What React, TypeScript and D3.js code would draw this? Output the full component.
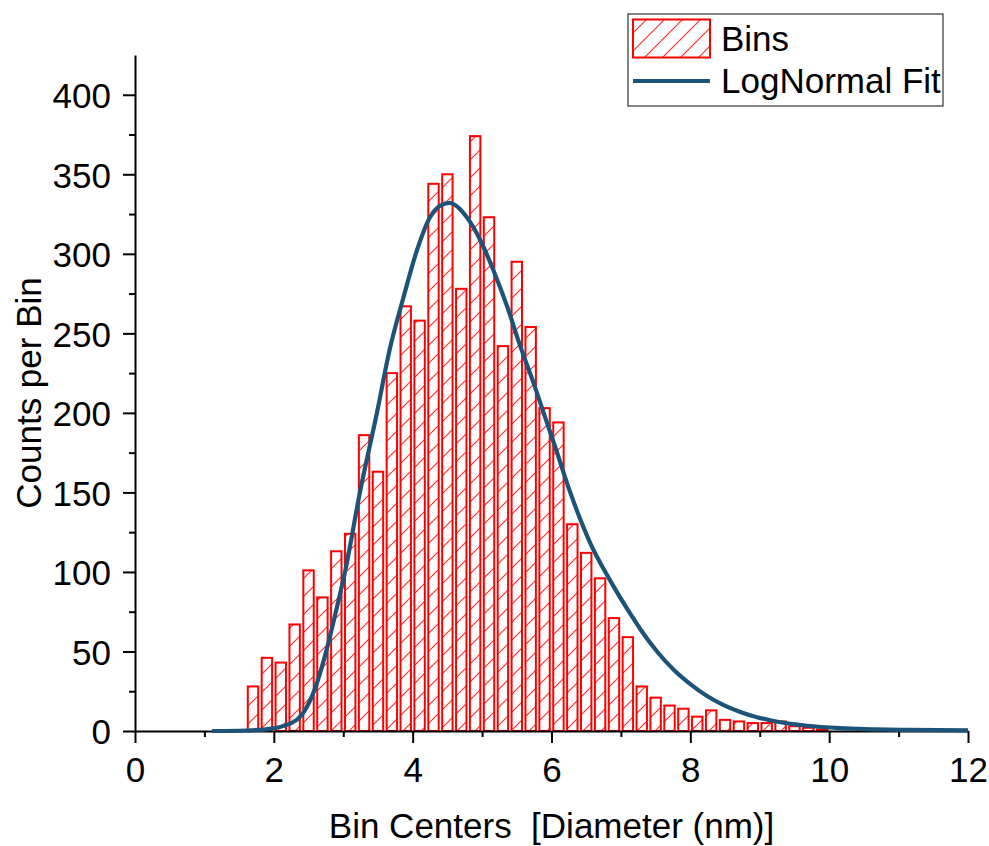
import React, { useRef, useEffect } from 'react';
import * as d3 from 'd3';

// histogram bins (centre of each 0.2 nm bin) and counts
const binCenters = [
  1.7, 1.9, 2.1, 2.3, 2.5, 2.7, 2.9, 3.1, 3.3, 3.5, 3.7, 3.9, 4.1, 4.3,
  4.5, 4.7, 4.9, 5.1, 5.3, 5.5, 5.7, 5.9, 6.1, 6.3, 6.5, 6.7, 6.9, 7.1,
  7.3, 7.5, 7.7, 7.9, 8.1, 8.3, 8.5, 8.7, 8.9, 9.1, 9.3, 9.5, 9.7, 9.9,
];
const binCounts = [
  28, 46, 43, 67, 101, 84, 113, 124, 186, 163, 225, 267, 258, 344,
  350, 278, 374, 323, 242, 295, 254, 203, 194, 130, 112, 96, 71, 59,
  28, 21, 16, 14, 9, 13, 7, 6, 5, 5, 6, 3, 2, 1,
];

// lognormal fit curve
const fitX = [
  1.11, 1.6, 1.97, 2.33, 2.57, 2.76, 2.91, 3.03, 3.24, 3.48, 3.67, 3.87,
  4.06, 4.25, 4.39, 4.53, 4.78, 4.97, 5.16, 5.36, 5.55, 5.74, 5.91, 6.05,
  6.27, 6.56, 6.84, 7.16, 7.28, 7.52, 7.76, 8.0, 8.24, 8.48, 8.72, 8.96,
  9.2, 9.68, 10.16, 11.12, 12,
];
const fitY = [
  0, 0.3, 1.5, 7, 24, 51, 78, 101, 150, 199, 240, 273,
  302, 323, 330, 332, 323, 309, 290, 267, 242, 219, 197, 179,
  150, 118, 95, 72, 64, 50, 38.5, 29.5, 22, 16.3, 12, 8.7,
  6.3, 3.3, 1.8, 0.7, 0.4,
];

const xMajorTicks = [0, 2, 4, 6, 8, 10, 12];
const xMinorTicks = [1, 3, 5, 7, 9, 11];
const yMajorTicks = [0, 50, 100, 150, 200, 250, 300, 350, 400];
const yMinorTicks = [25, 75, 125, 175, 225, 275, 325, 375];

const FONT = '"Liberation Sans", Arial, Helvetica, sans-serif';
const FONT_SIZE = 35;
const RED = '#ff0000';
const BLUE = '#1c5379';

export default function App() {
  const xAxisEl = useRef(null);
  const xMinorEl = useRef(null);
  const yAxisEl = useRef(null);
  const yMinorEl = useRef(null);

  const width = 989;
  const height = 846;
  const margin = { top: 55, right: 21, bottom: 115, left: 135 };

  const xScale = d3
    .scaleLinear()
    .domain([0, 12])
    .range([margin.left, width - margin.right]);
  const yScale = d3
    .scaleLinear()
    .domain([0, 425])
    .range([height - margin.bottom, margin.top]);

  const halfBar = 0.075;

  const line = d3
    .line()
    .x((d) => xScale(d[0]))
    .y((d) => yScale(d[1]))
    .curve(d3.curveMonotoneX);
  const fitPoints = fitX.map((x, i) => [x, fitY[i]]);

  useEffect(() => {
    const styleAxis = (g) => {
      g.select('.domain').attr('stroke-width', 2).attr('stroke', '#000');
      g.selectAll('.tick line').attr('stroke-width', 2).attr('stroke', '#000');
      g.selectAll('.tick text')
        .attr('font-size', FONT_SIZE)
        .attr('font-family', FONT)
        .attr('fill', '#000');
    };

    d3.select(xAxisEl.current)
      .call(
        d3
          .axisBottom(xScale)
          .tickValues(xMajorTicks)
          .tickSize(12)
          .tickSizeOuter(0)
          .tickPadding(14)
      )
      .call(styleAxis);

    d3.select(xMinorEl.current)
      .call(
        d3
          .axisBottom(xScale)
          .tickValues(xMinorTicks)
          .tickSize(6)
          .tickFormat(() => '')
      )
      .call(styleAxis)
      .call((g) => g.select('.domain').remove());

    d3.select(yAxisEl.current)
      .call(
        d3
          .axisLeft(yScale)
          .tickValues(yMajorTicks)
          .tickSize(12)
          .tickSizeOuter(0)
          .tickPadding(12)
      )
      .call(styleAxis)
      .call((g) => g.selectAll('.tick text').attr('dy', '0.37em'));

    d3.select(yMinorEl.current)
      .call(
        d3
          .axisLeft(yScale)
          .tickValues(yMinorTicks)
          .tickSize(6)
          .tickFormat(() => '')
      )
      .call(styleAxis)
      .call((g) => g.select('.domain').remove());

    return () => {
      [xAxisEl, xMinorEl, yAxisEl, yMinorEl].forEach((r) =>
        d3.select(r.current).selectAll('*').remove()
      );
    };
  }, []);

  const baseY = yScale(0);

  return (
    <svg
      width={width}
      height={height}
      style={{ position: 'absolute', left: 0, top: 0, background: '#fff' }}
      fontFamily={FONT}
    >
      <defs>
        <pattern id='hatch' patternUnits='userSpaceOnUse' width={18} height={18}>
          <path
            d='M-4.5,4.5 L4.5,-4.5 M0,18 L18,0 M13.5,22.5 L22.5,13.5'
            fill='none'
            stroke='#ff2a2a'
            strokeWidth={1.1}
          />
        </pattern>
      </defs>
      <rect width={width} height={height} fill='#fff' />

      <g>
        {binCenters.map((c, i) => (
          <rect
            key={c}
            x={xScale(c - halfBar)}
            y={yScale(binCounts[i])}
            width={xScale(c + halfBar) - xScale(c - halfBar)}
            height={baseY - yScale(binCounts[i])}
            fill='url(#hatch)'
            stroke={RED}
            strokeWidth={2}
          />
        ))}
      </g>

      <g transform={`translate(0, ${baseY})`} ref={xMinorEl}></g>
      <g transform={`translate(0, ${baseY})`} ref={xAxisEl}></g>
      <g transform={`translate(${margin.left}, 0)`} ref={yMinorEl}></g>
      <g transform={`translate(${margin.left}, 0)`} ref={yAxisEl}></g>

      <path d={line(fitPoints)} fill='none' stroke={BLUE} strokeWidth={4.2} />

      <text
        x={(xScale(0) + xScale(12)) / 2}
        y={838}
        fontSize={FONT_SIZE}
        textAnchor='middle'
        style={{ whiteSpace: 'pre' }}
      >
        {'Bin Centers  [Diameter (nm)]'}
      </text>
      <text
        transform={`translate(41, ${(yScale(0) + yScale(425)) / 2}) rotate(-90)`}
        fontSize={FONT_SIZE}
        textAnchor='middle'
      >
        Counts per Bin
      </text>

      {/* legend */}
      <g>
        <rect x={628} y={14} width={315} height={92} fill='#fff' stroke='#333' strokeWidth={1.2} />
        <rect x={633} y={19.5} width={77} height={38} fill='url(#hatch)' stroke={RED} strokeWidth={2} />
        <line x1={633} x2={710} y1={81} y2={81} stroke={BLUE} strokeWidth={4.2} />
        <text x={721} y={51} fontSize={FONT_SIZE}>Bins</text>
        <text x={721} y={93} fontSize={FONT_SIZE}>LogNormal Fit</text>
      </g>
    </svg>
  );
}
